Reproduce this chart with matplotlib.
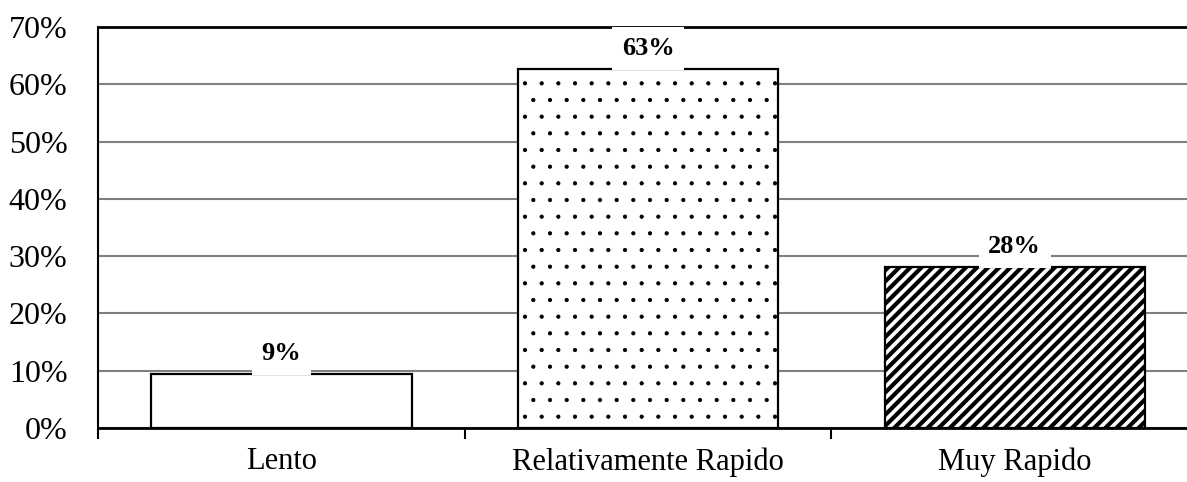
"""
Velocidad percibida - bar chart with hatch fills
"""

import matplotlib.pyplot as plt
from matplotlib.ticker import FuncFormatter

plt.rcParams['font.family'] = ['Liberation Serif', 'DejaVu Serif']
plt.rcParams['hatch.linewidth'] = 3.0

# Data
categories = ['Lento', 'Relativamente Rapido', 'Muy Rapido']
values = [9.4, 62.6, 28.1]
labels = ['9%', '63%', '28%']
hatches = ['', '.', '///']
hatch_lw = [1.0, 0.6, 3.0]

fig = plt.figure(figsize=(11.87, 4.82), dpi=100)
# plot area runs a bit past the right edge of the figure, as in the source
ax = fig.add_axes([0.0826, 0.112, 0.9267, 0.832])

x = range(len(categories))
bars = ax.bar(x, values, width=0.71, color='white', edgecolor='black',
              linewidth=1.6, zorder=3)
for bar, h, lw in zip(bars, hatches, hatch_lw):
    bar.set_hatch(h)
    if hasattr(bar, 'set_hatch_linewidth'):
        bar.set_hatch_linewidth(lw)

# value labels above bars, white box hides grid line behind
for xi, v, lab in zip(x, values, labels):
    ax.text(xi, v + 3.6, lab, ha='center', va='center', fontsize=19,
            fontweight='bold', zorder=4,
            bbox=dict(facecolor='white', edgecolor='none', pad=7))

ax.set_xlim(-0.5, 2.5)
ax.set_ylim(0, 70)
ax.set_yticks(range(0, 71, 10))
ax.yaxis.set_major_formatter(FuncFormatter(lambda v, p: f'{int(v)}%'))
ax.grid(axis='y', color='#808080', linewidth=1.5, zorder=0)

ax.set_xticks(list(x))
ax.set_xticklabels(categories)
ax.set_xticks([-0.5, 0.5, 1.5], minor=True)
ax.tick_params(axis='x', which='major', length=0, pad=14, labelsize=22)
ax.tick_params(axis='x', which='minor', length=8, width=1.5, direction='out')
ax.tick_params(axis='y', length=0, pad=22, labelsize=23)

ax.spines['right'].set_visible(False)
ax.spines['top'].set_linewidth(2)
ax.spines['left'].set_linewidth(1.5)
ax.spines['bottom'].set_linewidth(2)

fig.savefig('out.png', dpi=100)
